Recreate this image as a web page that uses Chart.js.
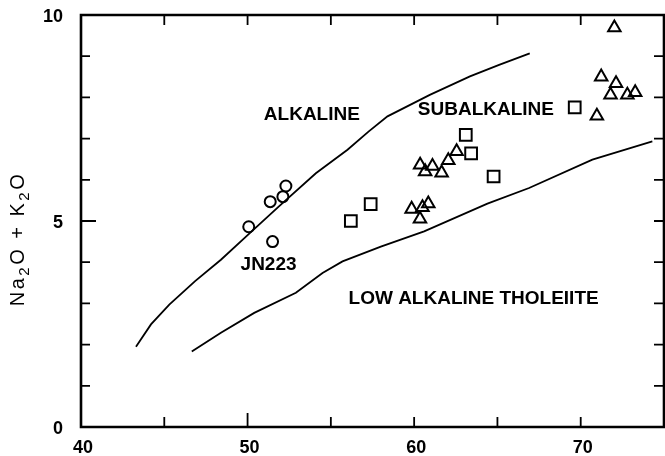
<!DOCTYPE html>
<html>
<head>
<meta charset="utf-8">
<script src="https://cdn.jsdelivr.net/npm/chart.js@4.4.1/dist/chart.umd.min.js"></script>
<style>
  html, body { margin: 0; padding: 0; background: #fff; overflow: hidden; }
  #wrap { width: 665px; height: 456px; position: relative; }
  canvas { display: block; }
</style>
</head>
<body>
<div id="wrap"><canvas id="c"></canvas></div>
<script>
// ---- data (SiO2 wt% vs Na2O + K2O wt%) ----
const xTickLabels = [40, 50, 60, 70];
const yTickLabels = [0, 5, 10];

const alkalineBoundaryX = [43.3, 44.2, 45.3, 46.85, 48.4, 50.15, 51.9, 54.1, 56.0, 57.26, 58.4, 60.94, 63.35, 65.1, 66.94];
const alkalineBoundaryY = [1.95, 2.49, 2.97, 3.54, 4.06, 4.71, 5.36, 6.16, 6.73, 7.17, 7.54, 8.06, 8.51, 8.79, 9.07];

const tholeiiteBoundaryX = [46.65, 48.4, 50.4, 52.9, 54.5, 55.7, 58.0, 60.6, 64.4, 66.9, 70.7, 74.3];
const tholeiiteBoundaryY = [1.83, 2.29, 2.77, 3.26, 3.74, 4.02, 4.38, 4.75, 5.42, 5.80, 6.49, 6.93];

const circlesX = [50.07, 51.36, 52.12, 52.3, 51.5];
const circlesY = [4.86, 5.47, 5.59, 5.85, 4.50];

const squaresX = [56.2, 57.39, 63.1, 63.42, 64.77, 69.64];
const squaresY = [5.0, 5.41, 7.09, 6.64, 6.08, 7.76];

const trianglesX = [72.02, 71.23, 72.12, 71.79, 72.8, 73.27, 70.97, 60.36, 60.66, 61.1, 61.65, 62.05, 62.55, 59.85, 60.5, 60.85, 60.35];
const trianglesY = [9.69, 8.50, 8.34, 8.06, 8.06, 8.12, 7.55, 6.36, 6.20, 6.33, 6.17, 6.47, 6.69, 5.29, 5.33, 5.42, 5.05];

const fieldLabels = ["ALKALINE", "SUBALKALINE", "JN223", "LOW ALKALINE THOLEIITE"];
const fieldLabelX = [53.86, 64.31, 51.26, 63.57];
const fieldLabelY = [7.58, 7.69, 3.94, 3.12];

const xMinorTicks = [45, 50, 55, 60, 65, 70];
const yMinorTicks = [1, 2, 3, 4, 5, 6, 7, 8, 9];

const zip = (xs, ys) => xs.map((x, i) => ({ x: x, y: ys[i] }));

const FONT = "'Liberation Sans', Arial, Helvetica, sans-serif";

const decorPlugin = {
  id: 'decor',
  afterDatasetsDraw(chart) {
    const ctx = chart.ctx;
    const a = chart.chartArea;
    const xs = chart.scales.x, ys = chart.scales.y;
    ctx.save();
    ctx.strokeStyle = '#000';
    // frame
    ctx.lineWidth = 2.6;
    ctx.beginPath();
    ctx.rect(a.left, a.top, a.right - a.left, a.bottom - a.top);
    ctx.stroke();
    // inward ticks
    ctx.lineWidth = 1.8;
    ctx.beginPath();
    xMinorTicks.forEach(v => {
      const px = xs.getPixelForValue(v);
      const lb = v === 50 ? 14 : 10;
      ctx.moveTo(px, a.bottom); ctx.lineTo(px, a.bottom - lb);
      ctx.moveTo(px, a.top); ctx.lineTo(px, a.top + 10);
    });
    yMinorTicks.forEach(v => {
      const py = ys.getPixelForValue(v);
      const ll = v === 5 ? 15 : 9;
      ctx.moveTo(a.left, py); ctx.lineTo(a.left + ll, py);
      ctx.moveTo(a.right, py); ctx.lineTo(a.right - 10, py);
    });
    ctx.stroke();

    // tick labels
    ctx.fillStyle = '#000';
    ctx.font = 'bold 18px ' + FONT;
    ctx.textAlign = 'center';
    ctx.textBaseline = 'middle';
    xTickLabels.forEach(v => {
      ctx.fillText(String(v), xs.getPixelForValue(v) + 2, a.bottom + 21);
    });
    ctx.textAlign = 'right';
    yTickLabels.forEach(v => {
      ctx.fillText(String(v), a.left - 18, ys.getPixelForValue(v) + 2);
    });

    // field labels
    ctx.font = 'bold 19px ' + FONT;
    ctx.textAlign = 'center';
    ctx.textBaseline = 'middle';
    fieldLabels.forEach((t, i) => {
      const px = xs.getPixelForValue(fieldLabelX[i]);
      const py = ys.getPixelForValue(fieldLabelY[i]);
      ctx.fillText(t, px, py);
    });
    ctx.restore();

    // y-axis title with subscripts
    ctx.save();
    const cx = 17, cy = 239;
    ctx.translate(cx, cy);
    ctx.rotate(-Math.PI / 2);
    ctx.fillStyle = '#000';
    ctx.textBaseline = 'alphabetic';
    ctx.textAlign = 'left';
    const parts = [
      { t: 'Na', f: '20px ' + FONT, dy: 0 },
      { t: '2', f: '15px ' + FONT, dy: 5 },
      { t: 'O + K', f: '20px ' + FONT, dy: 0 },
      { t: '2', f: '15px ' + FONT, dy: 5 },
      { t: 'O', f: '20px ' + FONT, dy: 0 }
    ];
    if ('letterSpacing' in ctx) ctx.letterSpacing = '2.5px';
    let total = 0;
    parts.forEach(p => { ctx.font = p.f; p.w = ctx.measureText(p.t).width; total += p.w; });
    let x = -total / 2;
    parts.forEach(p => {
      ctx.font = p.f;
      ctx.fillText(p.t, x, 7 + p.dy);
      x += p.w;
    });
    ctx.restore();
  }
};

new Chart(document.getElementById('c'), {
  type: 'scatter',
  data: {
    datasets: [
      { label: 'alkaline boundary', data: zip(alkalineBoundaryX, alkalineBoundaryY), showLine: true,
        borderColor: '#000', borderWidth: 1.8, pointRadius: 0, fill: false, tension: 0 },
      { label: 'tholeiite boundary', data: zip(tholeiiteBoundaryX, tholeiiteBoundaryY), showLine: true,
        borderColor: '#000', borderWidth: 1.8, pointRadius: 0, fill: false, tension: 0 },
      { label: 'circles', data: zip(circlesX, circlesY), pointStyle: 'circle', pointRadius: 5.5,
        borderColor: '#000', backgroundColor: 'rgba(0,0,0,0)', borderWidth: 2 },
      { label: 'squares', data: zip(squaresX, squaresY), pointStyle: 'rect', pointRadius: 8.3,
        borderColor: '#000', backgroundColor: 'rgba(0,0,0,0)', borderWidth: 2 },
      { label: 'triangles', data: zip(trianglesX, trianglesY), pointStyle: 'triangle', pointRadius: 7.2,
        borderColor: '#000', backgroundColor: 'rgba(0,0,0,0)', borderWidth: 2 }
    ]
  },
  options: {
    responsive: true,
    maintainAspectRatio: false,
    animation: false,
    layout: { autoPadding: false, padding: { top: 15, right: 1, left: 0, bottom: 0 } },
    plugins: { legend: { display: false }, tooltip: { enabled: false } },
    scales: {
      x: {
        type: 'linear', min: 40, max: 75,
        grid: { display: false, drawTicks: false },
        border: { display: false },
        ticks: { display: false },
        afterBuildTicks: s => { s.ticks = xTickLabels.map(v => ({ value: v })); },
        afterFit: s => { s.height = 29; }
      },
      y: {
        type: 'linear', min: 0, max: 10,
        grid: { display: false, drawTicks: false },
        border: { display: false },
        ticks: { display: false },
        afterBuildTicks: s => { s.ticks = yTickLabels.map(v => ({ value: v })); },
        afterFit: s => { s.width = 81; }
      }
    }
  },
  plugins: [decorPlugin]
});
</script>
</body>
</html>
